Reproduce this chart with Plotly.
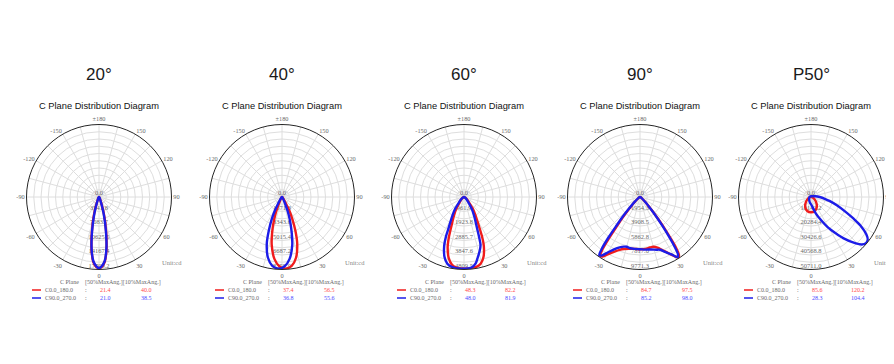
import plotly.graph_objects as go

# ---------------- data ----------------
TITLES = ["20°", "40°", "60°", "90°", "P50°"]
SUBTITLE = "C Plane Distribution Diagram"
PLANES = ["C0.0_180.0", "C90.0_270.0"]
ANG50 = [[21.4, 21.0], [37.4, 36.8], [48.3, 48.0], [84.7, 85.2], [85.6, 28.3]]
ANG10 = [[40.0, 38.5], [56.5, 55.6], [82.2, 81.9], [97.5, 98.0], [120.2, 104.4]]

RADIAL_TEXT = [
    ["0.0", "3541.8", "7083.7", "10625.5", "14167.4", "17709.2"],
    ["0.0", "1671.8", "3343.6", "5015.4", "6687.2", "8359.0"],
    ["0.0", "961.9", "1923.8", "2885.7", "3847.6", "4809.5"],
    ["0.0", "1954.3", "3908.5", "5862.8", "7817.0", "9771.3"],
    ["0.0", "10142.2", "20284.4", "30426.6", "40568.8", "50711.0"],
]
RADIAL_LEVELS = [0, 20, 40, 60, 80, 100]          # % of outer ring
ANG_VALS = list(range(0, 360, 15))
ANG_TEXT = ["0", "", "30", "", "60", "", "90", "", "120", "", "150", "",
            "±180", "", "-150", "", "-120", "", "-90", "", "-60", "", "-30", ""]

# relative intensity (% of outer ring) vs gamma angle
P1_RED_T = [-90, -40, -30, -25, -20, -17, -15, -13, -10.7, -8, -5, -2, 0, 2, 5, 8, 10.7, 13, 15, 17, 20, 25, 30, 40, 90]
P1_RED_R = [0, 1, 2, 4, 10, 20, 29, 40, 55, 74, 90, 97, 98, 97, 90, 74, 55, 40, 29, 20, 10, 4, 2, 1, 0]
P1_BLU_T = [-90, -40, -30, -25, -19.3, -16.5, -14.5, -12.6, -10.5, -8, -5, -2, 0, 2, 5, 8, 10.5, 12.6, 14.5, 16.5, 19.3, 25, 30, 40, 90]
P1_BLU_R = [0, 1, 2, 3.5, 10, 20, 29, 40, 55, 73, 89, 96, 98, 96, 89, 73, 55, 40, 29, 20, 10, 3.5, 2, 1, 0]

P2_RED_T = [-87, -47, -35, -29, -25.3, -22, -19, -15.7, -12, -7, -2, 3, 8, 13, 18, 21.7, 25, 28, 31.3, 35, 41, 53, 93]
P2_RED_R = [0, 1, 2, 5, 10, 22, 34, 50, 68, 86, 96, 99, 96, 86, 68, 50, 34, 22, 10, 5, 2, 1, 0]
P2_BLU_T = [-93, -53, -41, -35, -30.8, -28, -25, -21.4, -18, -13, -8, -3, 2, 7, 12, 15.4, 19, 22, 24.8, 29, 35, 47, 87]
P2_BLU_R = [0, 1, 2, 5, 10, 20, 33, 50, 68, 86, 96, 99, 96, 86, 68, 50, 33, 20, 10, 5, 2, 1, 0]

P3_RED_T = [-88, -58, -48, -39, -33, -28, -25, -22.15, -20.5, -18, -14, -10, -6, 2, 10, 14, 18, 22, 24.5, 26.15, 29, 32, 37, 43, 52, 62, 92]
P3_RED_R = [0, 2, 5, 10, 20, 30, 38, 50, 60, 73, 87, 95, 98, 99, 98, 95, 87, 73, 60, 50, 38, 30, 20, 10, 5, 2, 0]
P3_BLU_T = [-92, -62, -52, -43, -37, -32, -29, -26, -24.5, -22, -18, -14, -10, -2, 6, 10, 13, 16, 19, 20.5, 22, 25, 28, 33, 38.9, 48, 58, 88]
P3_BLU_R = [0, 2, 5, 10, 20, 30, 38, 50, 60, 73, 87, 95, 98, 99, 98, 93, 85, 78, 70, 60, 50, 38, 30, 20, 10, 5, 2, 0]

P4_RED_T = [-90, -70, -55, -47, -42, -40, -38.5, -37, -35.5, -34, -32, -29, -25, -21, -17, -12, -6, 0, 6, 11, 15, 19, 23, 27, 30, 32.5, 34, 35.5, 37, 38.5, 40, 42, 47, 55, 70, 90]
P4_RED_R = [0, 1, 3, 10, 25, 38, 50, 70, 90, 98, 97, 90, 83, 78, 75, 73, 72, 72, 72, 71, 71, 74, 80, 87, 94, 99, 96, 85, 65, 50, 36, 24, 10, 3, 1, 0]
P4_BLU_T = [-90, -70, -55, -48, -43, -41, -39.5, -38, -36.5, -35, -33, -30, -26, -22, -18, -15, -11, -6, 0, 6, 12, 17, 21, 25, 29, 32, 33.5, 35, 36.5, 38, 39.5, 41.5, 46.5, 55, 70, 90]
P4_BLU_R = [0, 1, 3, 10, 25, 38, 50, 70, 88, 98, 96, 88, 80, 75, 72, 71, 72, 72, 72, 73, 74, 76, 78, 84, 91, 98, 95, 82, 65, 50, 37, 24, 10, 3, 1, 0]

P5_RED_T = [-120, -90, -75, -60, -45, -30, -15, 0, 15, 30, 45, 60, 75, 90, 120]
P5_RED_R = [0, 1, 2.5, 5, 10, 16, 20, 21, 20, 16, 10, 5, 2.5, 1, 0]
P5_BLU_T = [-180, -90, -60, -30, -10, 0, 7, 16, 24, 29, 34, 38, 44, 47, 50, 53, 56, 60, 63, 66.5, 72, 78, 82, 90, 100, 120, 180]
P5_BLU_R = [1, 2, 3, 5, 8, 10, 13, 23, 36, 48, 60, 72, 89, 96, 99, 98, 92, 79, 66, 53, 38, 26, 20, 12, 6, 2, 1]

CURVES = [
    (P1_RED_T, P1_RED_R, P1_BLU_T, P1_BLU_R),
    (P2_RED_T, P2_RED_R, P2_BLU_T, P2_BLU_R),
    (P3_RED_T, P3_RED_R, P3_BLU_T, P3_BLU_R),
    (P4_RED_T, P4_RED_R, P4_BLU_T, P4_BLU_R),
    (P5_RED_T, P5_RED_R, P5_BLU_T, P5_BLU_R),
]

# ---------------- layout helpers ----------------
W, H = 894, 364
CENTERS_X = [91, 274, 456, 632, 803]
CY = 189
RAD = 72.5
RED = "#f01c1c"
BLUE = "#1c1ce8"
RED_TXT = "#ff4a4a"
BLUE_TXT = "#4a4aff"
GRAY = "#6a6a6a"
SMALL = "Liberation Serif"
LEG = 6


def px(x):
    return x / W


def py(y):
    return 1 - y / H


def note(x, y, text, size, color, anchor="center", family=SMALL):
    return dict(x=px(x), y=py(y), text=text, showarrow=False,
                xanchor=anchor, yanchor="middle", borderpad=0,
                font=dict(family=family, size=size, color=color))


fig = go.Figure()
annotations = []
shapes = []

for i in range(5):
    pid = "polar" if i == 0 else f"polar{i + 1}"
    cx = CENTERS_X[i]
    rt, rr, bt, br = CURVES[i]

    fig.add_trace(go.Scatterpolar(
        r=RADIAL_LEVELS, theta=[0] * len(RADIAL_LEVELS), text=RADIAL_TEXT[i],
        mode="text", textposition="top center",
        textfont=dict(family=SMALL, size=6.5, color=GRAY),
        subplot=pid, hoverinfo="skip", showlegend=False))
    fig.add_trace(go.Scatterpolar(
        r=rr, theta=rt, mode="lines",
        line=dict(color=RED, width=2.4, shape="spline", smoothing=0.8),
        subplot=pid, hoverinfo="skip", showlegend=False))
    fig.add_trace(go.Scatterpolar(
        r=br, theta=bt, mode="lines",
        line=dict(color=BLUE, width=2.4, shape="spline", smoothing=0.8),
        subplot=pid, hoverinfo="skip", showlegend=False))

    fig.layout[pid] = dict(
        domain=dict(x=[px(cx - RAD), px(cx + RAD)], y=[py(CY + RAD), py(CY - RAD)]),
        bgcolor="white",
        angularaxis=dict(
            rotation=-90, direction="counterclockwise",
            tickmode="array", tickvals=ANG_VALS, ticktext=ANG_TEXT,
            showgrid=True, gridcolor="#dedede", gridwidth=1,
            showline=True, linecolor="#262626", linewidth=1, ticks="",
            tickfont=dict(family=SMALL, size=6.3, color=GRAY)),
        radialaxis=dict(
            range=[0, 100], tickmode="array", tickvals=[10, 20, 30, 40, 50, 60, 70, 80, 90],
            showticklabels=False, ticks="", showline=False,
            gridcolor="#dedede", gridwidth=1),
    )

    # titles
    annotations.append(note(cx, 66, TITLES[i], 17, "#1a1a1a", family="Liberation Sans"))
    annotations.append(note(cx, 98, SUBTITLE, 9.3, "#111", family="Liberation Sans"))
    annotations.append(note(cx + 73, 254, "Unit:cd", 6.5, "#888"))

    # legend table: header, then one row per C plane (each cell its own text)
    annotations.append(note(cx - 40, 274, "C Plane", LEG, GRAY, anchor="left"))
    annotations.append(note(cx - 15, 274, "[50%MaxAng.][10%MaxAng.]", LEG, GRAY, anchor="left"))
    for j, (col, tcol, ry) in enumerate([(RED, RED_TXT, 282), (BLUE, BLUE_TXT, 290)]):
        shapes.append(dict(type="line", xref="paper", yref="paper",
                           x0=px(cx - 67), x1=px(cx - 58), y0=py(ry), y1=py(ry),
                           line=dict(color=col, width=1.5)))
        annotations.append(note(cx - 55, ry, PLANES[j], LEG, GRAY, anchor="left"))
        annotations.append(note(cx - 13, ry, ":", LEG, GRAY))
        annotations.append(note(cx + 6, ry, f"{ANG50[i][j]:.1f}", LEG, tcol))
        annotations.append(note(cx + 47, ry, f"{ANG10[i][j]:.1f}", LEG, tcol))

fig.update_layout(
    width=W, height=H, margin=dict(l=0, r=0, t=0, b=0),
    paper_bgcolor="white", plot_bgcolor="white",
    showlegend=False, hovermode=False,
    annotations=annotations, shapes=shapes,
)

fig.write_html("out.html")
